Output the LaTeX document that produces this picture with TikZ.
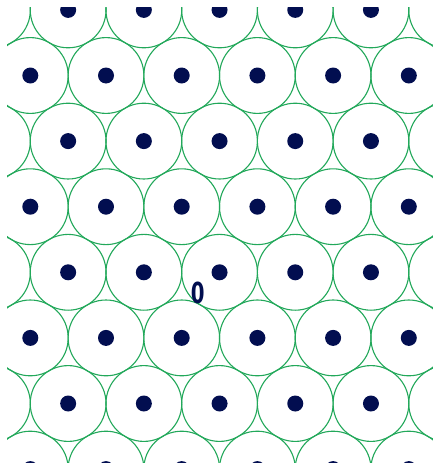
\documentclass[tikz,border=0pt]{standalone}
\usepackage{fontspec}
\usepackage{graphicx}
\newfontfamily\zerofont{DejaVu Sans}
\definecolor{ringgreen}{HTML}{22A85A}
\definecolor{dotnavy}{HTML}{020E50}
\tikzset{
  ring/.style={draw=ringgreen, line width=1.1pt},
  atomdot/.style={fill=dotnavy},
  originlabel/.style={text=dotnavy, inner sep=0pt}
}
\begin{document}
\begin{tikzpicture}[x=1pt,y=-1pt]
\fill[white] (0,0) rectangle (432,463);
\useasboundingbox (0,0) rectangle (432,463);
\begin{scope}
\clip (7,7) rectangle (433,464);
\foreach \k in {-1,...,8} {
  \pgfmathsetmacro{\yy}{9.9+65.6*\k}
  \pgfmathsetmacro{\xo}{isodd(\k) ? 30.3 : 68.15}
  \foreach \i in {-1,...,6} {
    \pgfmathsetmacro{\xx}{\xo+75.7*\i}
    \draw[ring] (\xx,\yy) circle[radius=37.9];
  }
}
\foreach \k in {-1,...,8} {
  \pgfmathsetmacro{\yy}{9.9+65.6*\k}
  \pgfmathsetmacro{\xo}{isodd(\k) ? 30.3 : 68.15}
  \foreach \i in {-1,...,6} {
    \pgfmathsetmacro{\xx}{\xo+75.7*\i}
    \fill[atomdot] (\xx,\yy) circle[radius=8];
  }
}
\end{scope}
\node[originlabel] (origin) at (197.7,292.5) {\scalebox{0.68}[1]{\zerofont\bfseries\fontsize{29}{29}\selectfont 0}};
\end{tikzpicture}
\end{document}
